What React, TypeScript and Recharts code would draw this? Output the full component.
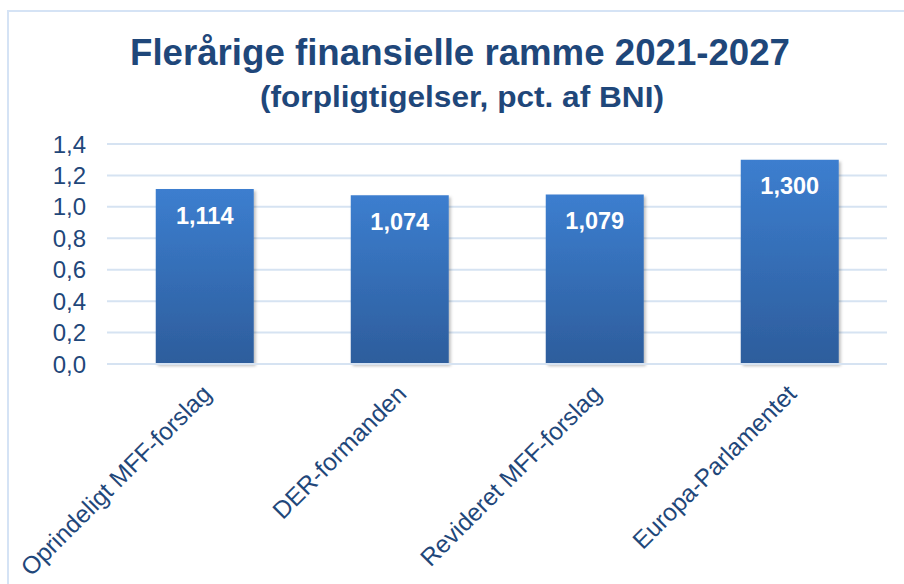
import React from 'react';
import { BarChart, Bar, XAxis, YAxis, CartesianGrid, LabelList } from 'recharts';

const categories = ['Oprindeligt MFF-forslag', 'DER-formanden', 'Revideret MFF-forslag', 'Europa-Parlamentet'];
const values = [1.114, 1.074, 1.079, 1.3];
const yTicks = [0, 0.2, 0.4, 0.6, 0.8, 1.0, 1.2, 1.4];

const TEXT = '#1F477A';
const FONT = '"Liberation Sans", Arial, sans-serif';

const data = categories.map((name, i) => ({ name, value: values[i] }));

const comma = (v: number, d: number) => v.toFixed(d).replace('.', ',');

function XTick(props: any) {
  const { x, y, payload } = props;
  return (
    <g transform={`translate(${x + 2},${y + 17})`}>
      <text
        transform="rotate(-45)"
        textAnchor="end"
        fill={TEXT}
        fontSize={24.5}
        fontFamily={FONT}
        dy={9}
      >
        {payload.value}
      </text>
    </g>
  );
}

export default function App() {
  return (
    <div style={{ position: 'absolute', left: 0, top: 0, width: 904, height: 584, background: '#fff', overflow: 'hidden' }}>
      <div
        style={{
          position: 'absolute',
          left: 7,
          top: 10,
          width: 1000,
          height: 700,
          borderTop: '2px solid #D5E3F5',
          borderLeft: '2px solid #D5E3F5',
        }}
      />
      <svg width={904} height={130} style={{ position: 'absolute', left: 0, top: 0 }}>
        <text
          x={460}
          y={65}
          textAnchor="middle"
          fill={TEXT}
          fontFamily={FONT}
          fontWeight="bold"
          fontSize={36}
          textLength={660}
          lengthAdjust="spacingAndGlyphs"
        >
          Flerårige finansielle ramme 2021-2027
        </text>
        <text
          x={462}
          y={107}
          textAnchor="middle"
          fill={TEXT}
          fontFamily={FONT}
          fontWeight="bold"
          fontSize={29}
          textLength={404}
          lengthAdjust="spacingAndGlyphs"
        >
          (forpligtigelser, pct. af BNI)
        </text>
      </svg>
      <div style={{ position: 'absolute', left: 0, top: 0 }}>
        <BarChart
          width={904}
          height={584}
          data={data}
          margin={{ top: 144, right: 17, left: 0, bottom: 0 }}
          barCategoryGap="25%"
        >
          <defs>
            <linearGradient id="barGrad" x1="0" y1="0" x2="0" y2="1">
              <stop offset="0%" stopColor="#3C7ECF" />
              <stop offset="100%" stopColor="#2D5D9C" />
            </linearGradient>
            <filter id="barShadow" x="-10%" y="-10%" width="130%" height="130%">
              <feDropShadow dx="2" dy="2" stdDeviation="1.5" floodColor="#000" floodOpacity="0.25" />
            </filter>
          </defs>
          <CartesianGrid vertical={false} stroke="#D6E3F2" strokeWidth={2} />
          <XAxis
            dataKey="name"
            height={220}
            axisLine={{ stroke: '#D6E3F2', strokeWidth: 2 }}
            tickLine={false}
            interval={0}
            tick={<XTick />}
          />
          <YAxis
            width={107}
            domain={[0, 1.4]}
            ticks={yTicks}
            interval={0}
            axisLine={false}
            tickLine={false}
            tickSize={0}
            tickMargin={21}
            tickFormatter={(v: number) => comma(v, 1)}
            tick={{ fill: TEXT, fontSize: 24, fontFamily: FONT }}
          />
          <Bar dataKey="value" fill="url(#barGrad)" filter="url(#barShadow)" isAnimationActive={false}>
            <LabelList
              dataKey="value"
              position="insideTop"
              offset={18}
              formatter={(v: any) => comma(Number(v), 3)}
              fill="#FFFFFF"
              fontSize={23.5}
              fontWeight="bold"
              fontFamily={FONT}
            />
          </Bar>
        </BarChart>
      </div>
    </div>
  );
}
